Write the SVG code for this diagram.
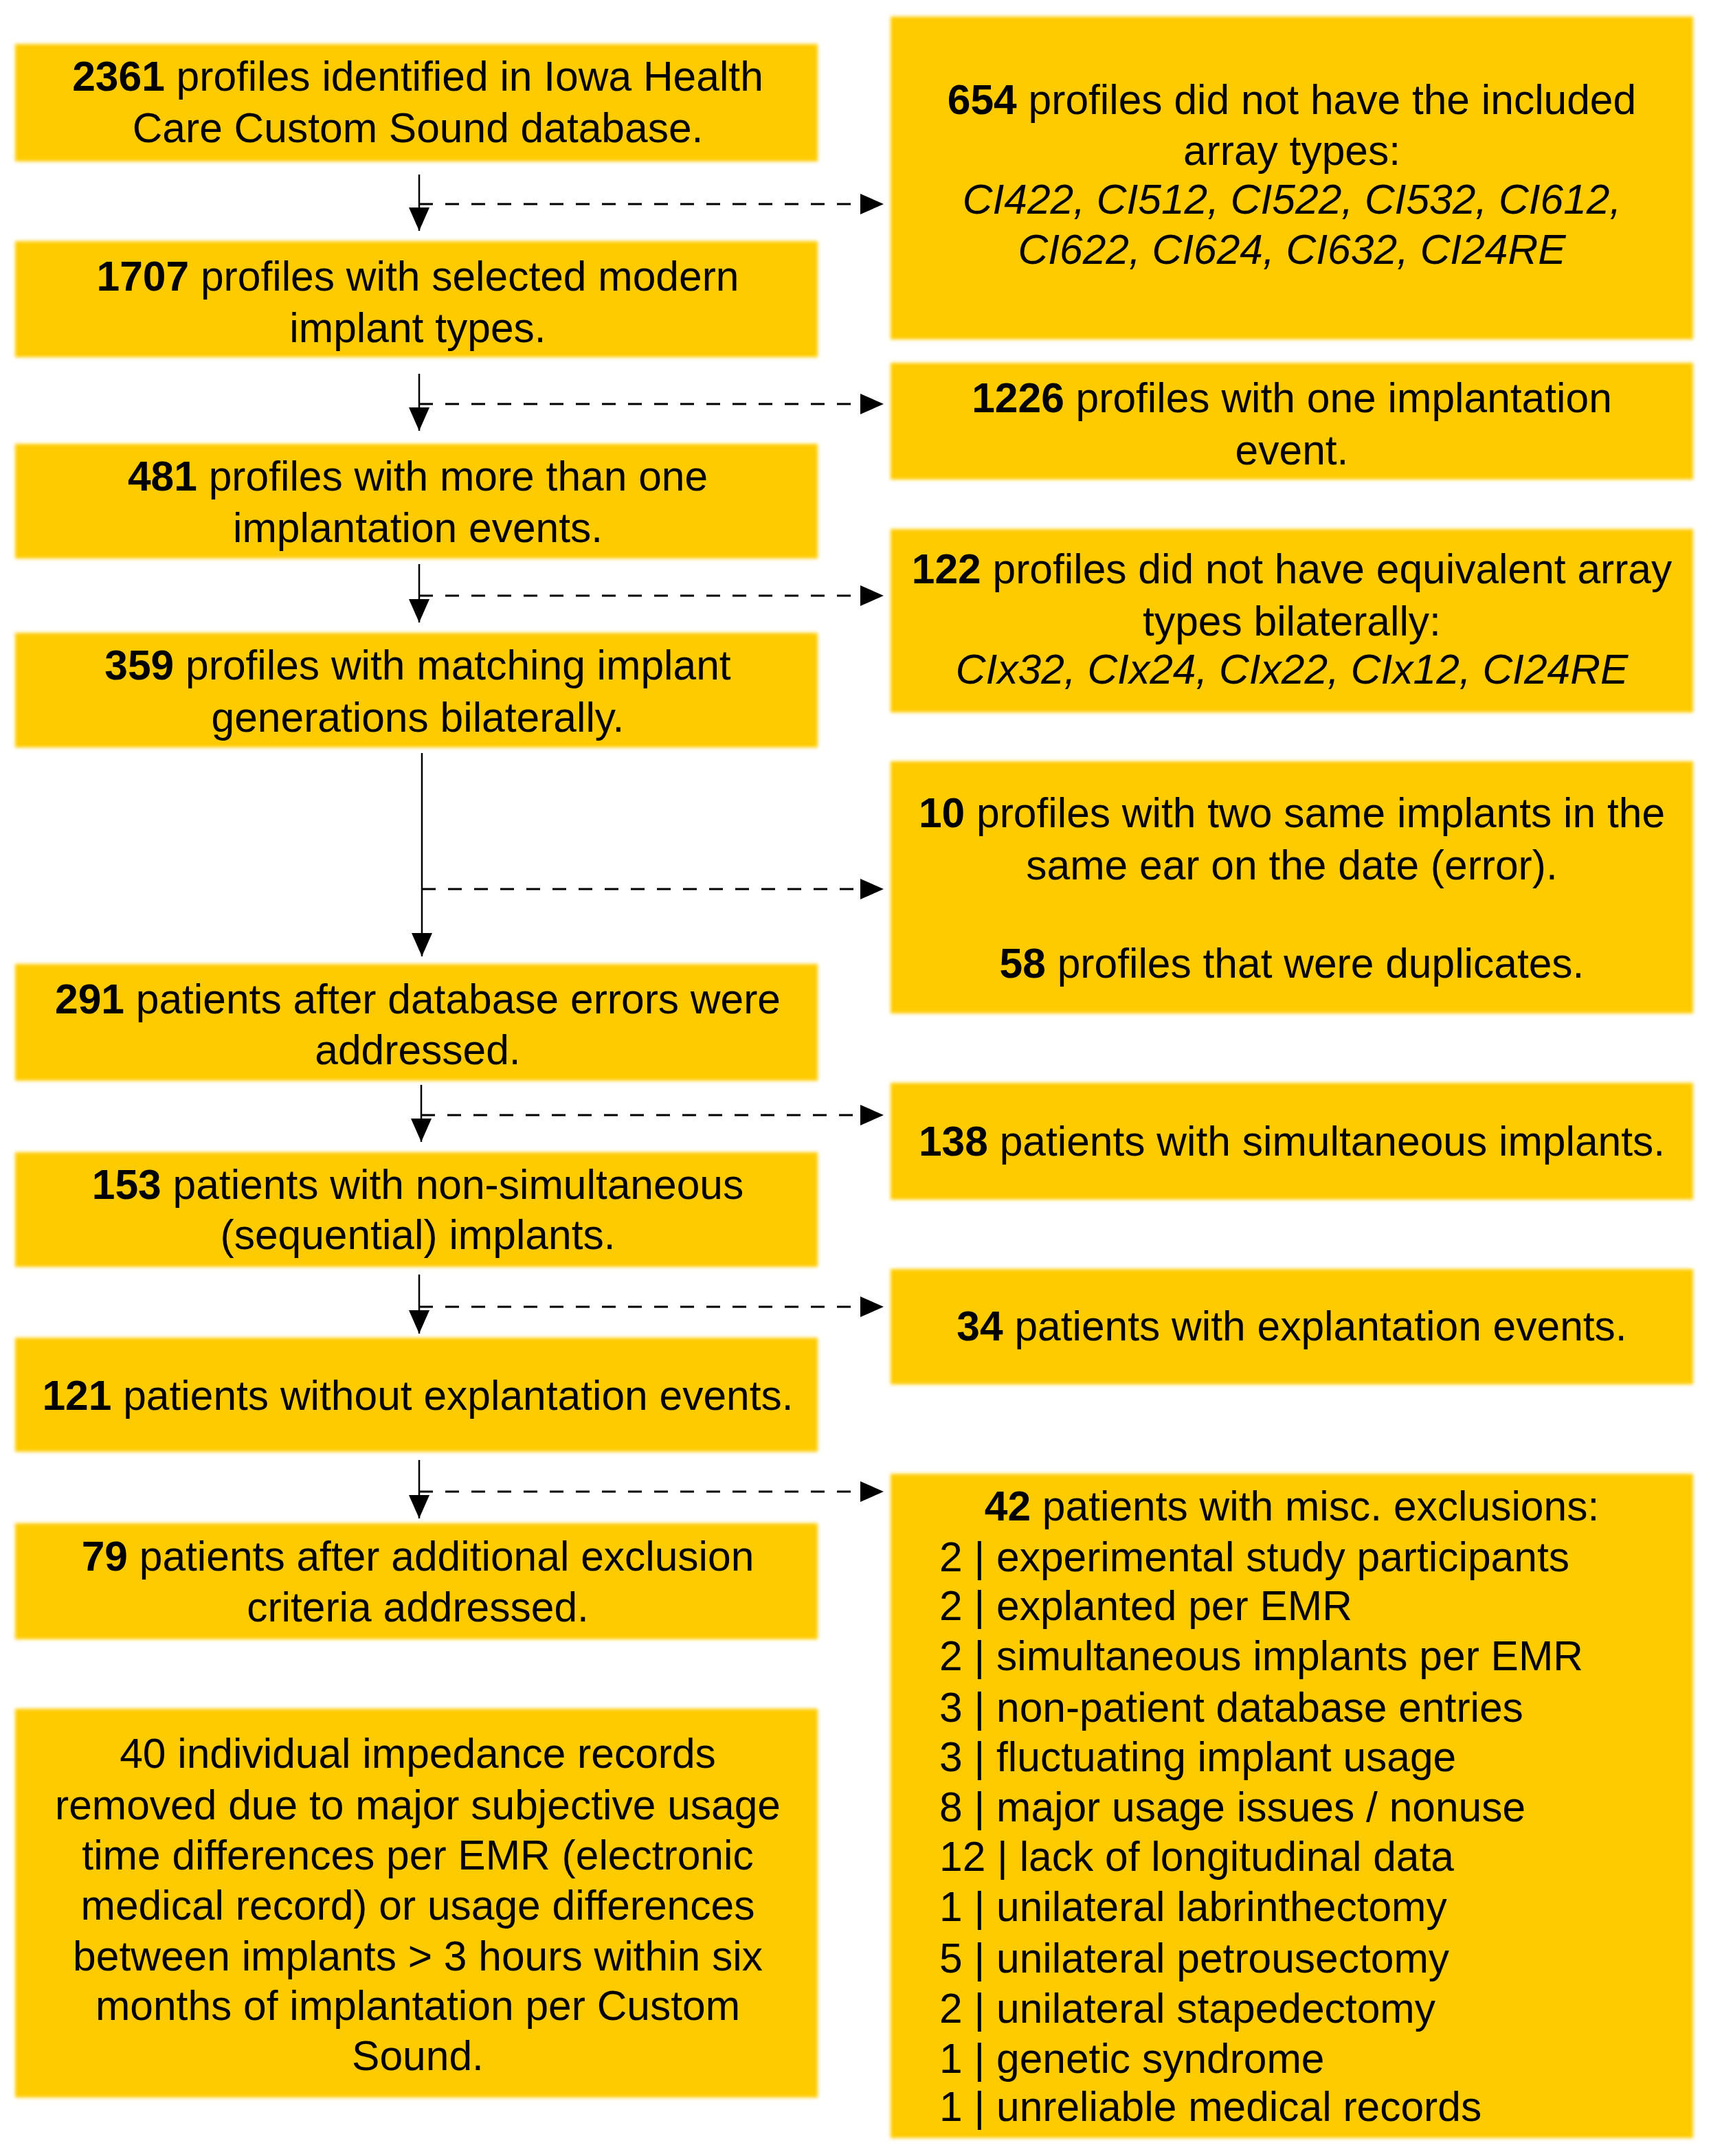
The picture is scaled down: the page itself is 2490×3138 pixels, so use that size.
<svg xmlns="http://www.w3.org/2000/svg" width="2490" height="3138" viewBox="0 0 2490 3138">
<style>
.box{fill:#FECB00;filter:url(#soft)}
text{font-family:"Liberation Sans",Arial,sans-serif;font-size:60.5px;fill:#000}
.c{text-anchor:middle}
.b{font-weight:bold}
.i{font-style:italic}
.solid{stroke:#000;stroke-width:2.5;fill:none;marker-end:url(#ah)}
.dash{stroke:#000;stroke-width:3.2;fill:none;stroke-dasharray:20 18;marker-end:url(#ah)}
</style>
<defs>
<filter id="soft" x="-2%" y="-5%" width="104%" height="110%"><feGaussianBlur stdDeviation="2.5"/></filter>
<marker id="ah" markerUnits="userSpaceOnUse" markerWidth="34" markerHeight="30" refX="34" refY="15" orient="auto"><path d="M0,0 L34,15 L0,30 z" fill="#000"/></marker>
</defs>
<rect width="2490" height="3138" fill="#fff"/>

<g id="connectors">
<line class="solid" x1="610" y1="254" x2="610" y2="336"/>
<line class="dash" x1="610" y1="297" x2="1286" y2="297"/>
<line class="solid" x1="610" y1="544" x2="610" y2="627"/>
<line class="dash" x1="610" y1="588" x2="1286" y2="588"/>
<line class="solid" x1="610" y1="821" x2="610" y2="906"/>
<line class="dash" x1="610" y1="867" x2="1286" y2="867"/>
<line class="solid" x1="614" y1="1096" x2="614" y2="1392"/>
<line class="dash" x1="614" y1="1294" x2="1286" y2="1294"/>
<line class="solid" x1="613" y1="1579" x2="613" y2="1662"/>
<line class="dash" x1="613" y1="1623" x2="1286" y2="1623"/>
<line class="solid" x1="610" y1="1855" x2="610" y2="1941"/>
<line class="dash" x1="610" y1="1902" x2="1286" y2="1902"/>
<line class="solid" x1="610" y1="2125" x2="610" y2="2210"/>
<line class="dash" x1="610" y1="2171" x2="1286" y2="2171"/>
</g>

<g id="n2361">
<rect class="box" x="22" y="64" width="1168" height="171"/>
<text class="c" x="608" y="132"><tspan class="b">2361</tspan> profiles identified in Iowa Health</text>
<text class="c" x="608" y="207">Care Custom Sound database.</text>
</g>
<g id="n1707">
<rect class="box" x="22" y="351" width="1168" height="169"/>
<text class="c" x="608" y="423"><tspan class="b">1707</tspan> profiles with selected modern</text>
<text class="c" x="608" y="498">implant types.</text>
</g>
<g id="n481">
<rect class="box" x="22" y="646" width="1168" height="167"/>
<text class="c" x="608" y="714"><tspan class="b">481</tspan> profiles with more than one</text>
<text class="c" x="608" y="789">implantation events.</text>
</g>
<g id="n359">
<rect class="box" x="22" y="921" width="1168" height="167"/>
<text class="c" x="608" y="989"><tspan class="b">359</tspan> profiles with matching implant</text>
<text class="c" x="608" y="1065">generations bilaterally.</text>
</g>
<g id="n291">
<rect class="box" x="22" y="1403" width="1168" height="170"/>
<text class="c" x="608" y="1475"><tspan class="b">291</tspan> patients after database errors were</text>
<text class="c" x="608" y="1549">addressed.</text>
</g>
<g id="n153">
<rect class="box" x="22" y="1677" width="1168" height="167"/>
<text class="c" x="608" y="1745"><tspan class="b">153</tspan> patients with non-simultaneous</text>
<text class="c" x="608" y="1818">(sequential) implants.</text>
</g>
<g id="n121">
<rect class="box" x="22" y="1947" width="1168" height="166"/>
<text class="c" x="608" y="2052"><tspan class="b">121</tspan> patients without explantation events.</text>
</g>
<g id="n79">
<rect class="box" x="22" y="2217" width="1168" height="169"/>
<text class="c" x="608" y="2286"><tspan class="b">79</tspan> patients after additional exclusion</text>
<text class="c" x="608" y="2360">criteria addressed.</text>
</g>
<g id="n40">
<rect class="box" x="22" y="2487" width="1168" height="566"/>
<text class="c" x="608" y="2573">40 individual impedance records</text>
<text class="c" x="608" y="2648">removed due to major subjective usage</text>
<text class="c" x="608" y="2721">time differences per EMR (electronic</text>
<text class="c" x="608" y="2794">medical record) or usage differences</text>
<text class="c" x="608" y="2868">between implants &gt; 3 hours within six</text>
<text class="c" x="608" y="2940">months of implantation per Custom</text>
<text class="c" x="608" y="3013">Sound.</text>
</g>

<g id="n654">
<rect class="box" x="1296" y="24" width="1168" height="470"/>
<text class="c" x="1880" y="166"><tspan class="b">654</tspan> profiles did not have the included</text>
<text class="c" x="1880" y="240">array types:</text>
<text class="c i" x="1880" y="311">CI422, CI512, CI522, CI532, CI612,</text>
<text class="c i" x="1880" y="384">CI622, CI624, CI632, CI24RE</text>
</g>
<g id="n1226">
<rect class="box" x="1296" y="528" width="1168" height="170"/>
<text class="c" x="1880" y="600"><tspan class="b">1226</tspan> profiles with one implantation</text>
<text class="c" x="1880" y="676">event.</text>
</g>
<g id="n122">
<rect class="box" x="1296" y="770" width="1168" height="267"/>
<text class="c" x="1880" y="849"><tspan class="b">122</tspan> profiles did not have equivalent array</text>
<text class="c" x="1880" y="925">types bilaterally:</text>
<text class="c i" x="1880" y="995">CIx32, CIx24, CIx22, CIx12, CI24RE</text>
</g>
<g id="n10">
<rect class="box" x="1296" y="1108" width="1168" height="367"/>
<text class="c" x="1880" y="1204"><tspan class="b">10</tspan> profiles with two same implants in the</text>
<text class="c" x="1880" y="1280">same ear on the date (error).</text>
<text class="c" x="1880" y="1423"><tspan class="b">58</tspan> profiles that were duplicates.</text>
</g>
<g id="n138">
<rect class="box" x="1296" y="1576" width="1168" height="170"/>
<text class="c" x="1880" y="1682"><tspan class="b">138</tspan> patients with simultaneous implants.</text>
</g>
<g id="n34">
<rect class="box" x="1296" y="1847" width="1168" height="168"/>
<text class="c" x="1880" y="1951"><tspan class="b">34</tspan> patients with explantation events.</text>
</g>
<g id="n42">
<rect class="box" x="1296" y="2145" width="1168" height="967"/>
<text class="c" x="1880" y="2213"><tspan class="b">42</tspan> patients with misc. exclusions:</text>
<text x="1367" y="2287">2 | experimental study participants</text>
<text x="1367" y="2358">2 | explanted per EMR</text>
<text x="1367" y="2431">2 | simultaneous implants per EMR</text>
<text x="1367" y="2506">3 | non-patient database entries</text>
<text x="1367" y="2578">3 | fluctuating implant usage</text>
<text x="1367" y="2651">8 | major usage issues / nonuse</text>
<text x="1367" y="2723">12 | lack of longitudinal data</text>
<text x="1367" y="2796">1 | unilateral labrinthectomy</text>
<text x="1367" y="2871">5 | unilateral petrousectomy</text>
<text x="1367" y="2944">2 | unilateral stapedectomy</text>
<text x="1367" y="3017">1 | genetic syndrome</text>
<text x="1367" y="3087">1 | unreliable medical records</text>
</g>
</svg>
